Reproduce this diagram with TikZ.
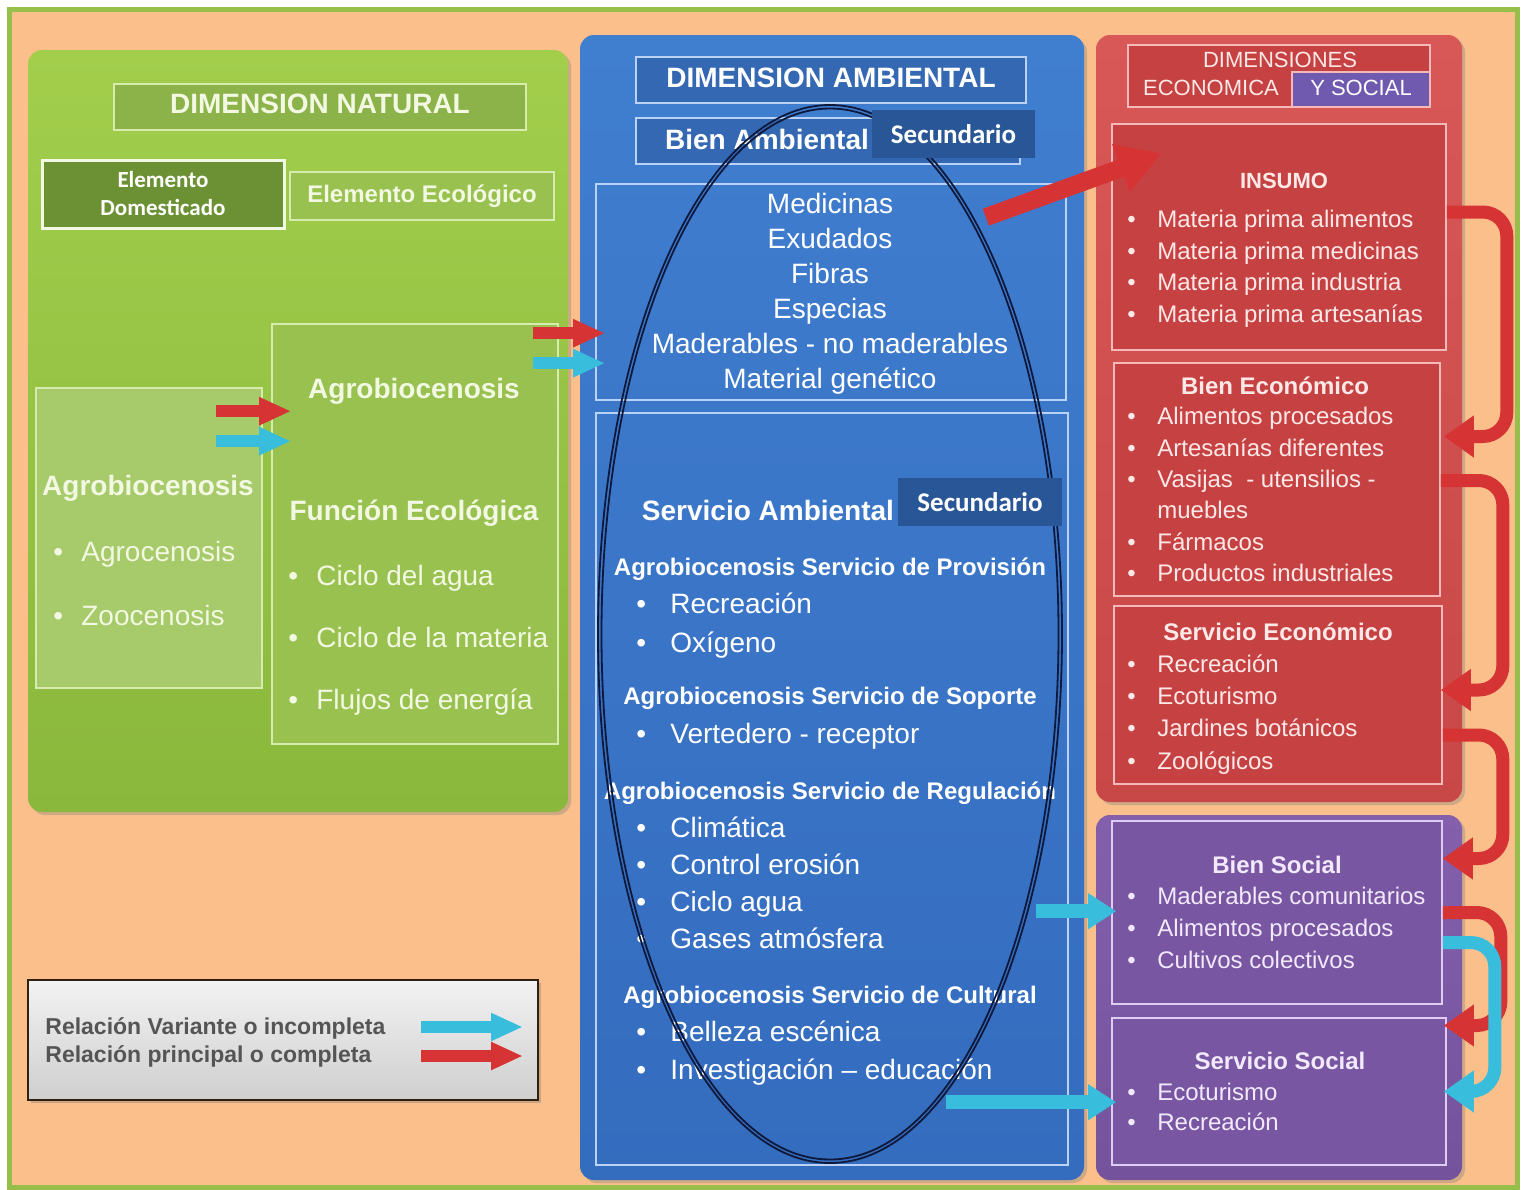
\documentclass[tikz,border=0pt]{standalone}
\usepackage{fontspec}
\setmainfont{Liberation Sans}
\newfontfamily\calib{Carlito}
\usetikzlibrary{arrows.meta,calc,fit,shadows}

\definecolor{peach}{RGB}{250,191,138}
\definecolor{frame}{RGB}{150,190,75}
\definecolor{natA}{RGB}{162,206,76}
\definecolor{natB}{RGB}{138,184,60}
\definecolor{natbox}{RGB}{152,193,80}
\definecolor{natdark}{RGB}{108,145,52}
\definecolor{natline}{RGB}{215,235,175}
\definecolor{nattxt}{RGB}{242,248,225}
\definecolor{ambA}{RGB}{64,126,208}
\definecolor{ambB}{RGB}{52,108,190}
\definecolor{ambbox}{RGB}{52,104,178}
\definecolor{ambdark}{RGB}{40,86,150}
\definecolor{ambline}{RGB}{185,210,245}
\definecolor{ecoA}{RGB}{216,88,88}
\definecolor{ecoB}{RGB}{200,72,72}
\definecolor{ecobox}{RGB}{198,66,66}
\definecolor{ecoline}{RGB}{245,185,185}
\definecolor{ecotxt}{RGB}{255,232,232}
\definecolor{socA}{RGB}{132,96,172}
\definecolor{socB}{RGB}{116,82,156}
\definecolor{socbox}{RGB}{120,86,162}
\definecolor{socline}{RGB}{222,204,242}
\definecolor{soctxt}{RGB}{242,234,252}
\definecolor{ysoc}{RGB}{112,90,176}
\definecolor{relred}{RGB}{214,52,52}
\definecolor{relcyan}{RGB}{56,190,220}
\definecolor{oval}{RGB}{15,25,60}
\definecolor{legtxt}{RGB}{85,85,85}

\newcommand{\bul}[1]{\makebox[#1][l]{\textbullet}}

\tikzset{
  panel/.style={inner sep=0, rounded corners=7pt,
    drop shadow={opacity=0.35, shadow xshift=1.5pt, shadow yshift=-1.5pt}},
  box/.style={inner sep=0, line width=0.8pt},
  hd/.style={inner sep=0, font=\bfseries\fontsize{14}{17}\selectfont},
  sub/.style={inner sep=0, font=\bfseries\fontsize{12}{14}\selectfont},
  lst/.style={inner sep=0, align=left, anchor=north west},
  sec/.style={inner sep=0, text=white, font=\calib\bfseries\fontsize{13.5}{16}\selectfont},
  redarr/.style={draw=relred, line width=6pt, -{Triangle[length=16pt,width=13pt]}},
  cyanarr/.style={draw=relcyan, line width=6pt, -{Triangle[length=16pt,width=13pt]}},
  bigcyan/.style={draw=relcyan, line width=7pt, -{Triangle[length=14pt,width=17pt]}},
  loopred/.style={draw=relred, line width=6.5pt, rounded corners=12pt,
    -{Triangle[length=15pt,width=20pt]}},
  loopcyan/.style={draw=relcyan, line width=6.5pt, rounded corners=12pt,
    -{Triangle[length=15pt,width=20pt]}}
}

\begin{document}
\begin{tikzpicture}[x=0.5pt,y=-0.5pt]
\useasboundingbox (0,0) rectangle (1521,1189);
\fill[white] (0,0) rectangle (1521,1189);
\draw[frame, line width=2.5pt, fill=peach] (9,9) rectangle (1517,1187);

% dimension natural
\node[panel, top color=natA, bottom color=natB, fit={(28,50)(568,812)}] (natural) {};
\node[box, fill=natbox!92!black, draw=natline, fit={(114,84)(526,130)}] (natitle) {};
\node[hd, text=nattxt] at ($(natitle)+(0,-3)$) (natitletxt) {DIMENSION NATURAL};
\node[box, fill=natdark, draw=white!85!natA, line width=1.5pt, fit={(42,160)(284,228)}] (domest) {};
\node[inner sep=0, align=center, text=white, font=\calib\bfseries\fontsize{11.5}{14}\selectfont]
  at (domest) (domesttxt) {Elemento\\Domesticado};
\node[box, fill=natbox, draw=natline, fit={(290,172)(554,220)}] (ecolog) {};
\node[sub, text=nattxt] at (ecolog) (ecologtxt) {Elemento Ecológico};
\node[box, fill=natbox!85!white, draw=natline, fit={(36,388)(262,688)}] (agrobox) {};
\node[box, fill=natbox, draw=natline, fit={(272,324)(558,744)}] (funbox) {};
\node[hd, text=nattxt] (agrotit) at (148,488) {Agrobiocenosis};
\node[lst, text=nattxt, font=\fontsize{14}{32}\selectfont] (agrolist) at (53,541)
  {\bul{14pt}Agrocenosis\\\bul{14pt}Zoocenosis};
\node[hd, text=nattxt] (agrotit2) at (414,391) {Agrobiocenosis};
\node[hd, text=nattxt] (funtit) at (414,513) {Función Ecológica};
\node[lst, text=nattxt, font=\fontsize{14}{31}\selectfont] (funlist) at (288,565)
  {\bul{14pt}Ciclo del agua\\\bul{14pt}Ciclo de la materia\\\bul{14pt}Flujos de energía};

% dimension ambiental
\node[panel, top color=ambA, bottom color=ambB, fit={(580,35)(1084,1180)}] (ambient) {};
\node[box, fill=ambbox, draw=ambline, fit={(636,57)(1026,103)}] (amtitle) {};
\node[hd, text=white] at ($(amtitle)+(0,-2)$) (amtitletxt) {DIMENSION AMBIENTAL};
\node[box, fill=ambbox, draw=ambline, fit={(636,118)(1020,164)}] (bienamb) {};
\node[hd, text=white] (bientit) at (767,139) {Bien Ambiental};
\node[box, draw=ambline, fit={(596,184)(1066,400)}] (bienbox) {};
\node[inner sep=0, anchor=north, align=center, text=white, font=\fontsize{14}{17.5}\selectfont] (bienlist) at (830,193)
  {Medicinas\\Exudados\\Fibras\\Especias\\Maderables - no maderables\\Material genético};
\node[box, draw=ambline, fit={(596,413)(1068,1165)}] (servbox) {};
\node[hd, text=white] (servtit) at (768,510) {Servicio Ambiental};
\node[sub, text=white] (prov) at (830,569) {Agrobiocenosis Servicio de Provisión};
\node[lst, text=white, font=\fontsize{14}{19.5}\selectfont] (provlist) at (636,592)
  {\bul{17pt}Recreación\\\bul{17pt}Oxígeno};
\node[sub, text=white] (sop) at (830,698) {Agrobiocenosis Servicio de Soporte};
\node[lst, text=white, font=\fontsize{14}{19.5}\selectfont] (soplist) at (636,723)
  {\bul{17pt}Vertedero - receptor};
\node[sub, text=white] (reg) at (830,793) {Agrobiocenosis Servicio de Regulación};
\node[lst, text=white, font=\fontsize{14}{18.5}\selectfont] (reglist) at (636,816)
  {\bul{17pt}Climática\\\bul{17pt}Control erosión\\\bul{17pt}Ciclo agua\\\bul{17pt}Gases atmósfera};
\node[sub, text=white] (cul) at (830,997) {Agrobiocenosis Servicio de Cultural};
\node[lst, text=white, font=\fontsize{14}{19}\selectfont] (cullist) at (636,1020)
  {\bul{17pt}Belleza escénica\\\bul{17pt}Investigación – educación};
\draw[oval, line width=0.9pt] (830,634) ellipse [x radius=232, y radius=529];
\draw[oval, line width=0.9pt] (830,634) ellipse [x radius=228.5, y radius=525.5];
\node[box, fill=ambdark, fit={(872,110)(1035,158)}] (secbien) {};
\node[sec] at (secbien) (secbientxt) {Secundario};
\node[box, fill=ambdark, fit={(898,478)(1062,526)}] (secserv) {};
\node[sec] at (secserv) (secservtxt) {Secundario};

% dimensiones economica y social
\node[panel, top color=ecoA, bottom color=ecoB, fit={(1096,35)(1462,802)}] (econ) {};
\node[box, fill=ecobox, draw=ecoline, fit={(1128,45)(1430,107)}] (ecotitle) {};
\node[box, fill=ysoc, draw=ecoline, fit={(1292,72)(1430,107)}] (ysocial) {};
\node[inner sep=0, text=white, font=\fontsize{11}{13}\selectfont] at ($(ysocial)+(0,-2)$) (ysocialtxt) {Y SOCIAL};
\node[inner sep=0, text=ecotxt, font=\fontsize{11}{13}\selectfont] (dimeco) at (1280,60) {DIMENSIONES};
\node[inner sep=0, text=ecotxt, font=\fontsize{11}{13}\selectfont] (economica) at (1211,88) {ECONOMICA};
\node[box, fill=ecobox, draw=ecoline, fit={(1112,124)(1446,350)}] (insumo) {};
\node[inner sep=0, text=ecotxt, font=\bfseries\fontsize{11}{13}\selectfont] (instit) at (1284,181) {INSUMO};
\node[lst, text=ecotxt, font=\fontsize{12}{15.8}\selectfont] (inslist) at (1127,210)
  {\bul{15pt}Materia prima alimentos\\\bul{15pt}Materia prima medicinas\\
   \bul{15pt}Materia prima industria\\\bul{15pt}Materia prima artesanías};
\node[box, fill=ecobox, draw=ecoline, fit={(1114,363)(1440,596)}] (bienecon) {};
\node[sub, text=ecotxt] (betit) at (1275,386) {Bien Económico};
\node[lst, text=ecotxt, font=\fontsize{12}{15.7}\selectfont] (belist) at (1127,407)
  {\bul{15pt}Alimentos procesados\\\bul{15pt}Artesanías diferentes\\
   \bul{15pt}Vasijas \ - utensilios -\\\hspace*{15pt}muebles\\
   \bul{15pt}Fármacos\\\bul{15pt}Productos industriales};
\node[box, fill=ecobox, draw=ecoline, fit={(1114,606)(1442,784)}] (servecon) {};
\node[sub, text=ecotxt] (setit) at (1278,632) {Servicio Económico};
\node[lst, text=ecotxt, font=\fontsize{12}{16.2}\selectfont] (selist) at (1127,654)
  {\bul{15pt}Recreación\\\bul{15pt}Ecoturismo\\\bul{15pt}Jardines botánicos\\\bul{15pt}Zoológicos};

\node[panel, top color=socA, bottom color=socB, fit={(1096,815)(1462,1180)}] (social) {};
\node[box, fill=socbox, draw=socline, fit={(1112,821)(1442,1004)}] (biensoc) {};
\node[sub, text=soctxt] (bstit) at (1277,865) {Bien Social};
\node[lst, text=soctxt, font=\fontsize{12}{15.8}\selectfont] (bslist) at (1127,887)
  {\bul{15pt}Maderables comunitarios\\\bul{15pt}Alimentos procesados\\\bul{15pt}Cultivos colectivos};
\node[box, fill=socbox, draw=socline, fit={(1112,1018)(1446,1165)}] (servsoc) {};
\node[sub, text=soctxt] (sstit) at (1280,1061) {Servicio Social};
\node[lst, text=soctxt, font=\fontsize{12}{15}\selectfont] (sslist) at (1127,1083)
  {\bul{15pt}Ecoturismo\\\bul{15pt}Recreación};

% leyenda
\node[inner sep=0, fit={(28,980)(538,1100)}, top color=gray!10, bottom color=gray!38,
  draw=black!75!brown, line width=1pt,
  drop shadow={opacity=0.4, shadow xshift=1.5pt, shadow yshift=-1.5pt}] (legend) {};
\node[inner sep=0, anchor=west, text=legtxt, font=\bfseries\fontsize{11.5}{13}\selectfont] (legvar) at (45,1028) {Relación Variante o incompleta};
\node[inner sep=0, anchor=west, text=legtxt, font=\bfseries\fontsize{11.5}{13}\selectfont] (legpri) at (45,1056) {Relación principal o completa};

% relaciones
\draw[redarr] ($(agrobox.north east)+(-47,24)$) -- ($(funbox.north west)+(20,88)$);
\draw[cyanarr] ($(agrobox.north east)+(-47,54)$) -- ($(funbox.north west)+(20,118)$);
\draw[redarr] ($(funbox.north east)+(-26,10)$) -- ($(bienbox.north west)+(10,150)$);
\draw[cyanarr] ($(funbox.north east)+(-26,40)$) -- ($(bienbox.north west)+(10,180)$);
\draw[draw=relred, line width=9pt, -{Triangle[length=22pt,width=24pt]}]
  ($(bienbox.north east)+(-81,34)$) -- ($(insumo.north west)+(51,30)$);
\draw[bigcyan] ($(servbox.north east)+(-33,499)$) -- ($(biensoc.north west)+(5,91)$);
\draw[bigcyan] ($(servbox.north east)+(-123,690)$) -- ($(servsoc.north west)+(5,85)$);
\draw[loopred] ($(insumo.east)+(0,-25)$) -- ++(60,0) |- ($(bienecon.east)+(3,-43)$);
\draw[loopred] ($(bienecon.east)+(0,1)$) -- ++(62,0) |- ($(servecon.east)+(-2,-5)$);
\draw[loopred] ($(servecon.east)+(0,40)$) -- ++(60,0) |- ($(biensoc.east)+(0,-54)$);
\draw[loopred] ($(biensoc.east)+(0,0)$) -- ++(58,0) |- ($(servsoc.east)+(-3,-66)$);
\draw[loopcyan] ($(biensoc.east)+(0,30)$) -- ++(52,0) |- ($(servsoc.east)+(-3,0)$);
\draw[cyanarr] ($(legend.north east)+(-118,48)$) -- ($(legend.north east)+(-16,48)$);
\draw[redarr] ($(legend.north east)+(-118,77)$) -- ($(legend.north east)+(-16,77)$);
\end{tikzpicture}
\end{document}
